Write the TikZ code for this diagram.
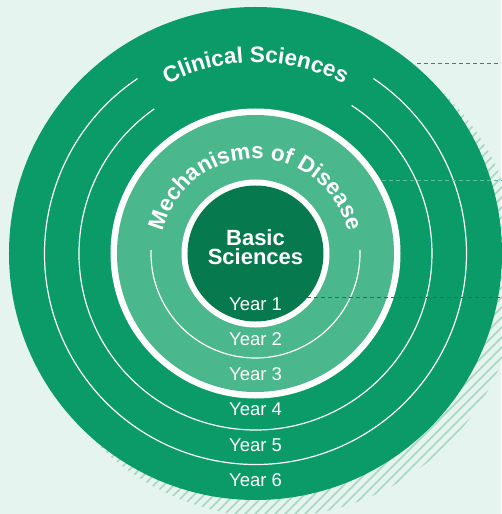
\documentclass[tikz,border=0pt]{standalone}
\usepackage{fontspec}
\setmainfont{Liberation Sans}
\usetikzlibrary{decorations.text,positioning}
\definecolor{bgmint}{HTML}{E6F4EF}
\definecolor{clingreen}{HTML}{0A9B69}
\definecolor{mechgreen}{HTML}{4BB78C}
\definecolor{basicgreen}{HTML}{067A4E}
\definecolor{hatchgreen}{HTML}{A3D9C2}
\definecolor{leadlight}{HTML}{5CC097}
\definecolor{leaddark}{HTML}{087F52}

\begin{document}
\begin{tikzpicture}
	[x=1pt,y=1pt,
	yeartext/.style={text=white,font=\fontsize{18.5}{20}\selectfont,inner sep=0pt},
	titletext/.style={text=white,font=\fontsize{22}{24}\selectfont\bfseries,inner sep=0pt},
	ringline/.style={white,line width=1.2pt},
	leader/.style={dash pattern=on 4pt off 3pt,line width=1pt}]
	\useasboundingbox[fill=bgmint] (-255.5,-260.5) rectangle (245.5,253.5);
	% shadow
	\begin{scope}
		\clip (17,-17) circle[radius=246.5];
		\foreach \k in {0,...,45}
			\draw[hatchgreen,line width=1.6pt] (\k*10-380,-350) -- ++(700,700);
	\end{scope}
	% rings
	\fill[clingreen] (0,0) circle[radius=246.5];
	\draw[ringline] (124:211) arc[start angle=124,end angle=416,radius=211];
	\draw[ringline] (125:176.5) arc[start angle=125,end angle=417,radius=176.5];
	\fill[white] (0,0) circle[radius=145];
	\fill[mechgreen] (0,0) circle[radius=138.5];
	\draw[ringline] (178:104.5) arc[start angle=178,end angle=362,radius=104.5];
	\fill[white] (0,0) circle[radius=74];
	\fill[basicgreen] (0,0) circle[radius=68];
	% curved titles
	\path[decorate,decoration={text along path,text align=center,text color=white,
		text={|\fontsize{22.5}{24}\selectfont\bfseries|Clinical Sciences}}]
		(150:191) arc[start angle=150,end angle=30,radius=191];
	\path[decorate,decoration={text along path,text align=center,text color=white,
		text={|\fontsize{22.5}{24}\selectfont\bfseries|Mechanisms of Disease}}]
		(180:95) arc[start angle=180,end angle=0,radius=95];
	\node[titletext,anchor=base] (basic) at (0,8.5) {Basic};
	\node[titletext,anchor=base] (sciences) at (0,-11.5) {Sciences};
	\foreach \n in {1,...,6}
		\node[yeartext] (year\n) at (0,{-50.5-35.2*(\n-1)}) {Year \n};
	% leaders
	\coordinate (clin) at (161.5,189.5);
	\coordinate (clinend) at (245.5,189.5);
	\coordinate (mech) at (126,72.5);
	\coordinate (mechend) at (245.5,72.5);
	\coordinate (bas) at (37,-43.5);
	\coordinate (basend) at (245.5,-43.5);
	\draw[leader,clingreen] (clin) -- (clinend);
	\draw[leader,leadlight] (mech) -- (mechend);
	\draw[leader,leaddark] (bas) -- (basend);
\end{tikzpicture}
\end{document}
